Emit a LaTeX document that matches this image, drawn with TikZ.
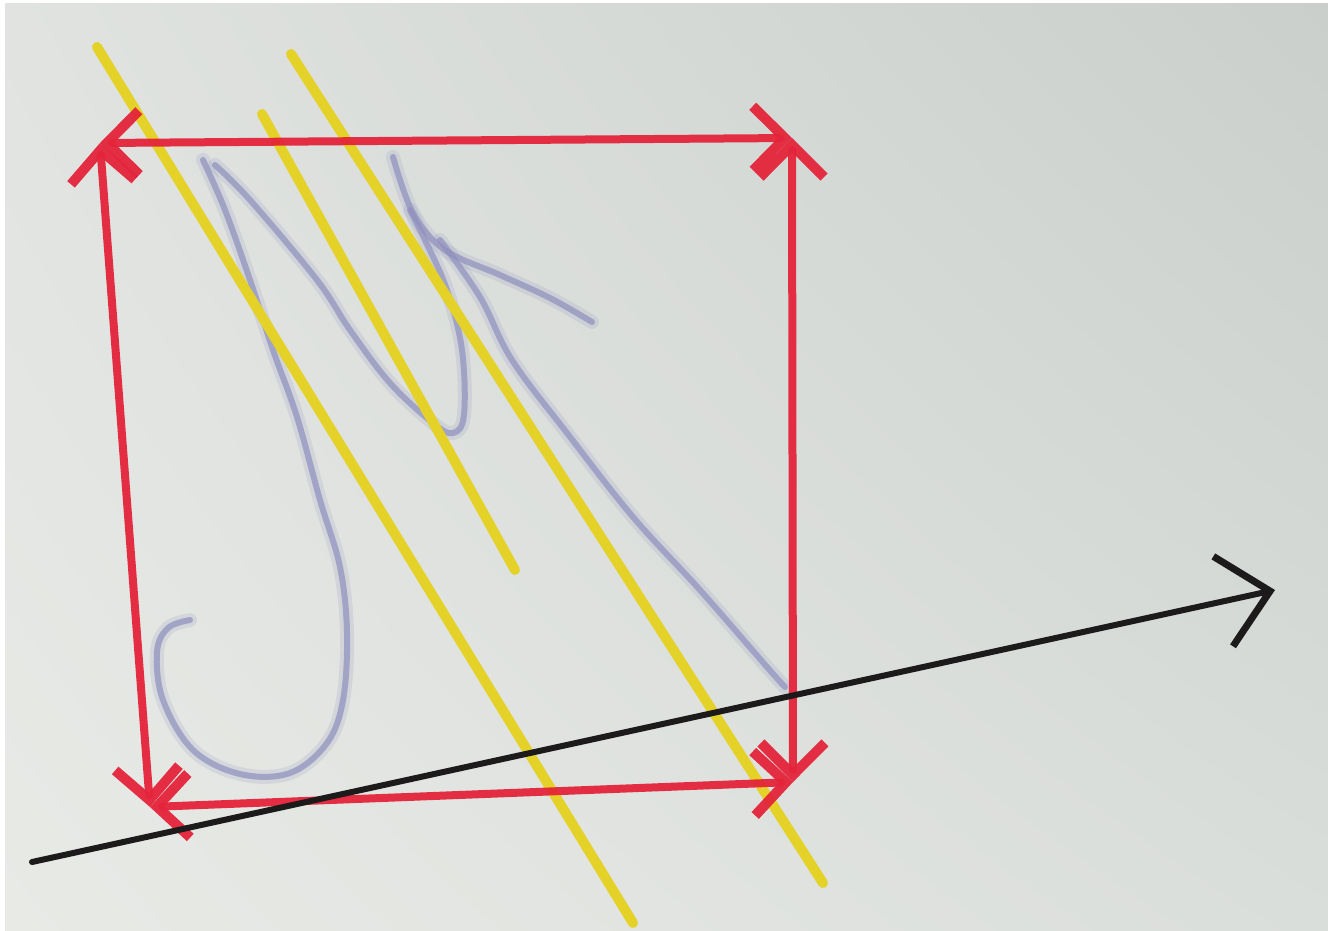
\documentclass[tikz,border=0pt]{standalone}
\usetikzlibrary{arrows.meta, shadings}

\definecolor{penred}{RGB}{228,36,58}
\definecolor{penyellow}{RGB}{228,210,40}
\definecolor{penblue}{RGB}{142,144,190}
\definecolor{penblack}{RGB}{28,26,26}
\definecolor{paperUL}{RGB}{224,227,224}
\definecolor{paperUR}{RGB}{202,207,204}
\definecolor{paperLL}{RGB}{232,234,230}
\definecolor{paperLR}{RGB}{218,222,218}

\begin{document}
\begin{tikzpicture}[
    x=1pt, y=-1pt,
    side/.style={
        draw=penred,
        line width=8pt,
        line cap=round,
        opacity=0.95,
        {Straight Barb[length=32pt,width=64pt,line width=10pt]}-{Straight Barb[length=32pt,width=64pt,line width=10pt]},
    },
    stripe/.style={
        draw=penyellow,
        line width=10pt,
        line cap=round,
    },
    scribble/.style={
        draw=penblue,
        line width=6pt,
        line cap=round,
        line join=round,
        opacity=0.7,
    },
    haze/.style={
        scribble,
        line width=14pt,
        opacity=0.18,
    },
    axis/.style={
        draw=penblack,
        line width=6pt,
        line cap=round,
        -{Straight Barb[length=48pt,width=92pt,line width=7pt]},
    },
]

    \useasboundingbox (0,0) rectangle (1328,930);
    \fill[white] (0,0) rectangle (1328,930);
    \shade[upper left=paperUL, upper right=paperUR,
           lower left=paperLL, lower right=paperLR]
        (5,3) rectangle (1328,930);

    \coordinate (tl) at (100,143);
    \coordinate (tr) at (792,138);
    \coordinate (br) at (793,782);
    \coordinate (bl) at (150,807);

    \coordinate (a1) at (97,47);
    \coordinate (a2) at (633,923);
    \coordinate (b1) at (262,114);
    \coordinate (b2) at (515,570);
    \coordinate (c1) at (291,54);
    \coordinate (c2) at (823,883);

    \coordinate (start) at (32,862);
    \coordinate (end) at (1275,590);

    \foreach \w in {haze, scribble} {
        \draw[\w] plot[smooth, tension=0.6] coordinates {
            (190,620) (168,628) (157,652) (163,700) (193,750) (240,774)
            (290,773) (327,743) (343,700) (347,633) (340,567) (320,500)
            (297,417) (273,350) (250,280) (225,210) (203,160)};
        \draw[\w] plot[smooth, tension=0.6] coordinates {
            (215,165) (250,200) (317,280) (350,330) (390,383) (433,423)
            (453,433) (464,415) (462,350) (447,290) (425,240) (410,210)};
        \draw[\w] plot[smooth, tension=0.6] coordinates {
            (393,157) (413,213) (445,250) (500,275) (550,298) (592,322)};
        \draw[\w] plot[smooth, tension=0.6] coordinates {
            (440,240) (480,297) (512,360) (567,433) (633,517) (700,590)
            (767,667) (785,687)};
    }

    \draw[stripe] (a1) -- (a2);
    \draw[stripe] (b1) -- (b2);
    \draw[stripe] (c1) -- (c2);

    \draw[side] (tr) -- (tl);
    \draw[side] (bl) -- (tl);
    \draw[side] (br) -- (tr);
    \draw[side] (bl) -- (br);

    \draw[axis] (start) -- (end);

\end{tikzpicture}
\end{document}
